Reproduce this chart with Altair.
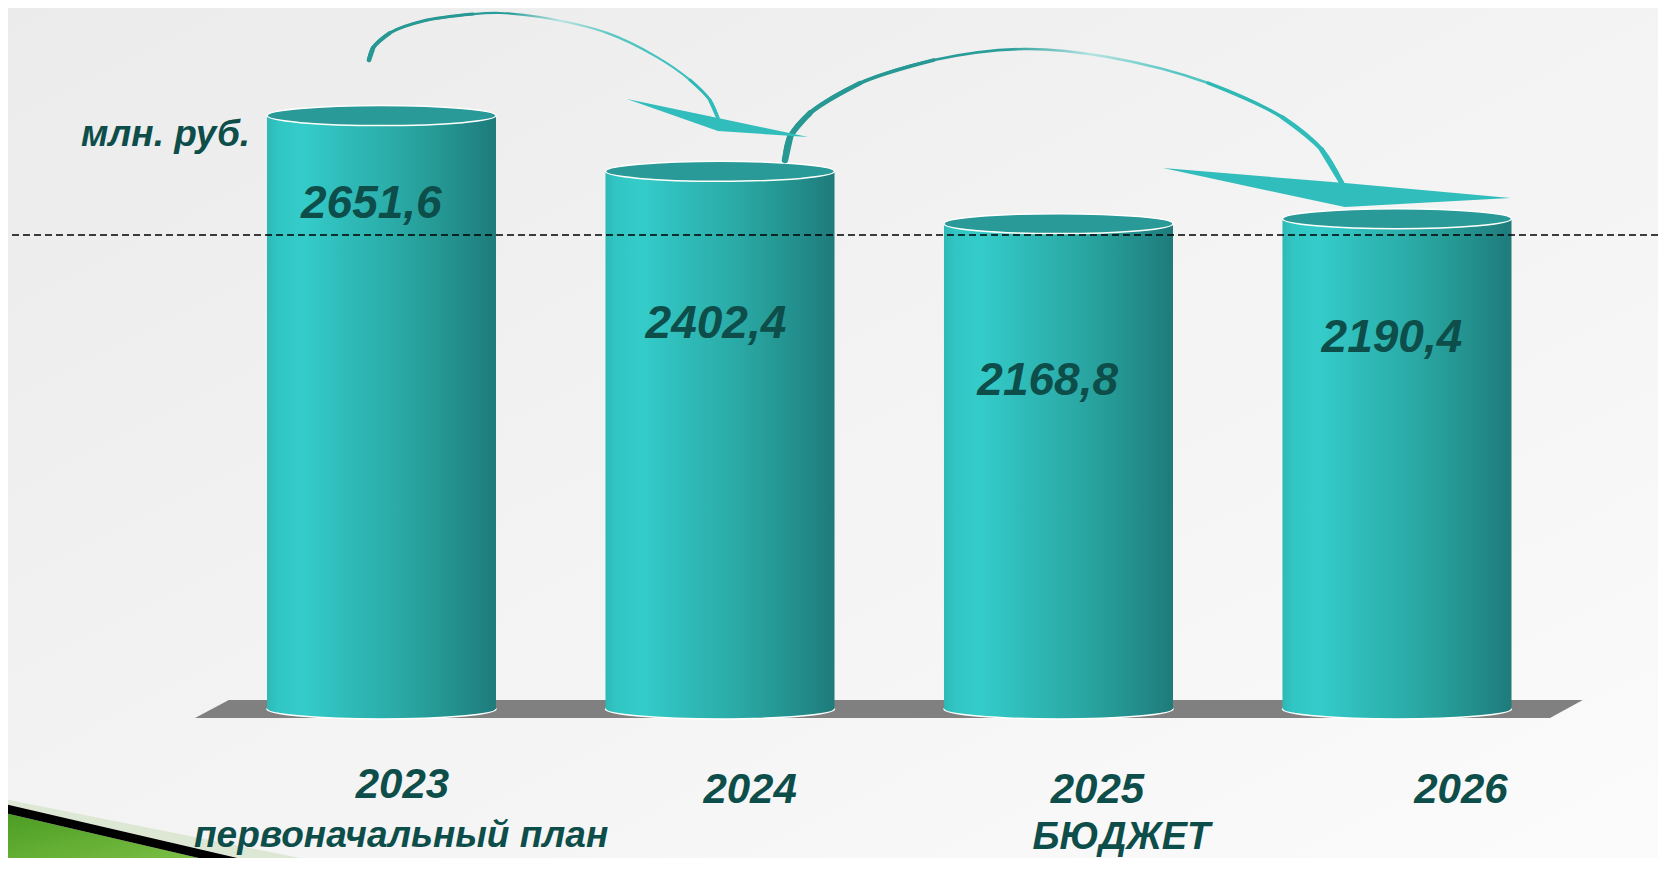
import altair as alt
import pandas as pd

# ---------------- data ----------------
years = [2023, 2024, 2025, 2026]
values = [2651.6, 2402.4, 2168.8, 2190.4]
value_text = ["2651,6", "2402,4", "2168,8", "2190,4"]
year_text = ["2023", "2024", "2025", "2026"]
sub_years = [2023, 2025]
sub_text = ["первоначальный план", "БЮДЖЕТ"]
unit_text = ["млн. руб."]
reference_level = [2118]

# annotation shapes, expressed in chart units (category position, value)
arrow1_x = [2022.963, 2022.975, 2023.025, 2023.123, 2023.270, 2023.350,
            2023.468, 2023.666, 2023.814, 2023.911, 2023.970, 2023.994]
arrow1_v = [2900, 2954, 3021, 3074, 3105, 3110, 3092, 3021, 2913, 2811, 2721, 2641]
arrow2_x = [2024.192, 2024.207, 2024.266, 2024.414, 2024.632, 2024.898,
            2025.146, 2025.442, 2025.660, 2025.778, 2025.837]
arrow2_v = [2453, 2556, 2663, 2797, 2900, 2949, 2913, 2797, 2645, 2498, 2350]
head1_x = [2023.725, 2023.994, 2024.260]
head1_top = [2726, 2641, 2556]
head1_bot = [2726, 2583, 2556]
head2_x = [2025.309, 2025.846, 2026.335]
head2_top = [2417, 2350, 2283]
head2_bot = [2417, 2243, 2283]
floor_x = [2022.449, 2022.549, 2026.452, 2026.549]
floor_top = [-40, 40, 40, 40]
floor_bot = [-40, -40, -40, 40]
green_x = [2021.873, 2022.612]
green_top = [-460, -719]
green_bot = [-719, -719]
black_x = [2021.873, 2022.612, 2022.730]
black_top = [-420, -679, -719]
black_bot = [-460, -719, -719]
pale_x = [2021.873, 2022.730, 2022.937]
pale_top = [-398, -657, -719]
pale_bot = [-420, -719, -719]

# ---------------- layout / style ----------------
W, H = 1650, 850
HALF = 0.3383
value_label_shift = [-0.030, -0.012, -0.032, -0.015]
value_label_level = [2194, 1658, 1403, 1595]
year_label_shift = [0.062, 0.089, 0.115, 0.189]
year_label_level = [-398, -420, -420, -420]
sub_label_shift = [0.058, 0.186]
sub_label_level = [-616, -625]
sub_label_size = [37, 38]
unit_pos_x = [2022.112]
unit_pos_v = [2516]

FONT = "Liberation Sans, Arial, sans-serif"
TXT = "#0D4D4A"

xs = alt.Scale(domain=[2021.8966, 2026.7711], nice=False, zero=False)
ys = alt.Scale(domain=[-665.8, 3132.3], nice=False, zero=False)


def X(f):
    return alt.X(f, type="quantitative", scale=xs, axis=None)


def Y(f):
    return alt.Y(f, type="quantitative", scale=ys, axis=None)


bar_grad = alt.LinearGradient(
    gradient="linear", x1=0, x2=1, y1=0, y2=0,
    stops=[
        alt.GradientStop(color="#2DB9B6", offset=0),
        alt.GradientStop(color="#31C6C4", offset=0.05),
        alt.GradientStop(color="#34CCCA", offset=0.16),
        alt.GradientStop(color="#2FBBB8", offset=0.35),
        alt.GradientStop(color="#2BACA9", offset=0.55),
        alt.GradientStop(color="#259893", offset=0.75),
        alt.GradientStop(color="#218786", offset=0.9),
        alt.GradientStop(color="#1E7B7A", offset=1),
    ],
)
bg_grad = alt.LinearGradient(
    gradient="linear", x1=0, y1=0, x2=1, y2=1,
    stops=[alt.GradientStop(color="#EBEBEB", offset=0),
           alt.GradientStop(color="#FBFBFB", offset=1)],
)
arrow_grad = alt.LinearGradient(
    gradient="linear", x1=0, x2=1, y1=0, y2=0,
    stops=[alt.GradientStop(color="#279893", offset=0),
           alt.GradientStop(color="#2A9E9A", offset=0.40),
           alt.GradientStop(color="#B5E3E1", offset=0.55),
           alt.GradientStop(color="#58C6C3", offset=0.70),
           alt.GradientStop(color="#30BCBA", offset=1)],
)
green_grad = alt.LinearGradient(
    gradient="linear", x1=0, y1=0, x2=1, y2=1,
    stops=[alt.GradientStop(color="#4A9B22", offset=0),
           alt.GradientStop(color="#86C84C", offset=1)],
)

ELLIPSE = "M-1,0A1,0.0873,0,1,1,1,0A1,0.0873,0,1,1,-1,0Z"
ESIZE = (2 * HALF * 338.5) ** 2

# ---------------- tables ----------------
bars = pd.DataFrame({"year": years, "value": values, "label": value_text,
                     "lshift": value_label_shift, "llevel": value_label_level,
                     "ytext": year_text, "yshift": year_label_shift,
                     "ylevel": year_label_level})
subs = pd.DataFrame({"year": sub_years, "label": sub_text,
                     "shift": sub_label_shift, "level": sub_label_level,
                     "fs": sub_label_size})
unit = pd.DataFrame({"x": unit_pos_x, "v": unit_pos_v, "label": unit_text})
ref = pd.DataFrame({"v": reference_level})


def path_df(xv, vv):
    return pd.DataFrame({"x": xv, "v": vv, "i": range(len(xv))})


a1 = path_df(arrow1_x, arrow1_v)
a2 = path_df(arrow2_x, arrow2_v)
h1 = pd.DataFrame({"x": head1_x, "t": head1_top, "b": head1_bot})
h2 = pd.DataFrame({"x": head2_x, "t": head2_top, "b": head2_bot})
fl = pd.DataFrame({"x": floor_x, "t": floor_top, "b": floor_bot})
gr = pd.DataFrame({"x": green_x, "t": green_top, "b": green_bot})
bl = pd.DataFrame({"x": black_x, "t": black_top, "b": black_bot})
pl = pd.DataFrame({"x": pale_x, "t": pale_top, "b": pale_bot})

# ---------------- layers ----------------
background = alt.Chart(pd.DataFrame({"k": [0]})).mark_rect(
    fill=bg_grad, stroke=None).encode(
    x=alt.value(0), x2=alt.value(W), y=alt.value(0), y2=alt.value(H))


def poly(df, fill, **kw):
    return alt.Chart(df).mark_area(fill=fill, clip=True, **kw).encode(
        x=X("x"), y=Y("t"), y2=alt.Y2("b"))


pale = poly(pl, "#DCE8D4")
green = poly(gr, green_grad)
black = poly(bl, "#000000")
floor = poly(fl, "#808080")

base = alt.Chart(bars).transform_calculate(
    xa="datum.year - %f" % HALF, xb="datum.year + %f" % HALF, zero="0")

bottom_ell = base.mark_point(
    shape=ELLIPSE, size=ESIZE, filled=True, fill=bar_grad, stroke="white",
    strokeWidth=1.5, opacity=1).encode(x=X("year"), y=Y("zero"))

body = base.mark_bar(fill=bar_grad, stroke=None).encode(
    x=X("xa"), x2=alt.X2("xb"), y=Y("zero"), y2=alt.Y2("value"))

top_ell = base.mark_point(
    shape=ELLIPSE, size=ESIZE, filled=True, fill="#299A97", stroke="white",
    strokeWidth=1.5, opacity=1).encode(x=X("year"), y=Y("value"))


def curve(df, stroke, width, flt=None):
    c = alt.Chart(df)
    if flt is not None:
        c = c.transform_filter(flt)
    return c.mark_line(stroke=stroke, strokeWidth=width,
                       interpolate="catmull-rom", strokeCap="round").encode(
        x=X("x"), y=Y("v"), order=alt.Order("i:Q"))


arrow_layers = [
    curve(a1, arrow_grad, 2.2),
    curve(a1, "#279893", 3.0, "datum.i <= 4"),
    curve(a1, "#279893", 3.8, "datum.i <= 2"),
    curve(a1, "#279893", 4.6, "datum.i <= 1"),
    curve(a1, "#2FB8B5", 2.8, "datum.i >= 9"),
    curve(a1, "#30BCBA", 3.4, "datum.i >= 10"),
    curve(a2, arrow_grad, 2.6),
    curve(a2, "#279893", 3.6, "datum.i <= 4"),
    curve(a2, "#279893", 4.6, "datum.i <= 3"),
    curve(a2, "#279893", 5.6, "datum.i <= 2"),
    curve(a2, "#279893", 6.4, "datum.i <= 1"),
    curve(a2, "#2FB8B5", 3.4, "datum.i >= 7"),
    curve(a2, "#30BCBA", 4.2, "datum.i >= 8"),
    curve(a2, "#30BCBA", 5.0, "datum.i >= 9"),
]
head1 = poly(h1, "#31BDBB")
head2 = poly(h2, "#31BDBB")

dashed = alt.Chart(ref).mark_rule(
    color="black", strokeWidth=1.7, strokeDash=[7, 4]).encode(y=Y("v"))

value_labels = base.transform_calculate(
    xl="datum.year + datum.lshift").mark_text(
    font=FONT, fontSize=46, fontWeight="bold", fontStyle="italic",
    color=TXT, align="center", baseline="alphabetic").encode(
    x=X("xl"), y=Y("llevel"), text="label:N")

year_labels = base.transform_calculate(
    xl="datum.year + datum.yshift").mark_text(
    font=FONT, fontSize=42, fontWeight="bold", fontStyle="italic",
    color=TXT, align="center", baseline="alphabetic").encode(
    x=X("xl"), y=Y("ylevel"), text="ytext:N")

sub_labels = alt.Chart(subs).transform_calculate(
    xl="datum.year + datum.shift").mark_text(
    font=FONT, fontWeight="bold", fontStyle="italic",
    color=TXT, align="center", baseline="alphabetic").encode(
    x=X("xl"), y=Y("level"), text="label:N",
    size=alt.Size("fs:Q", scale=None, legend=None))

unit_label = alt.Chart(unit).mark_text(
    font=FONT, fontSize=37, fontWeight="bold", fontStyle="italic",
    color=TXT, align="left", baseline="alphabetic").encode(
    x=X("x"), y=Y("v"), text="label:N")

chart = alt.layer(
    background, pale, green, black, floor, bottom_ell, body, top_ell,
    *arrow_layers, head1, head2, dashed,
    value_labels, year_labels, sub_labels, unit_label,
).properties(
    width=W, height=H, padding=0,
    autosize=alt.AutoSizeParams(type="none"),
).configure_view(stroke=None)

chart.save("out.html", embed_options={"renderer": "svg", "actions": False})
